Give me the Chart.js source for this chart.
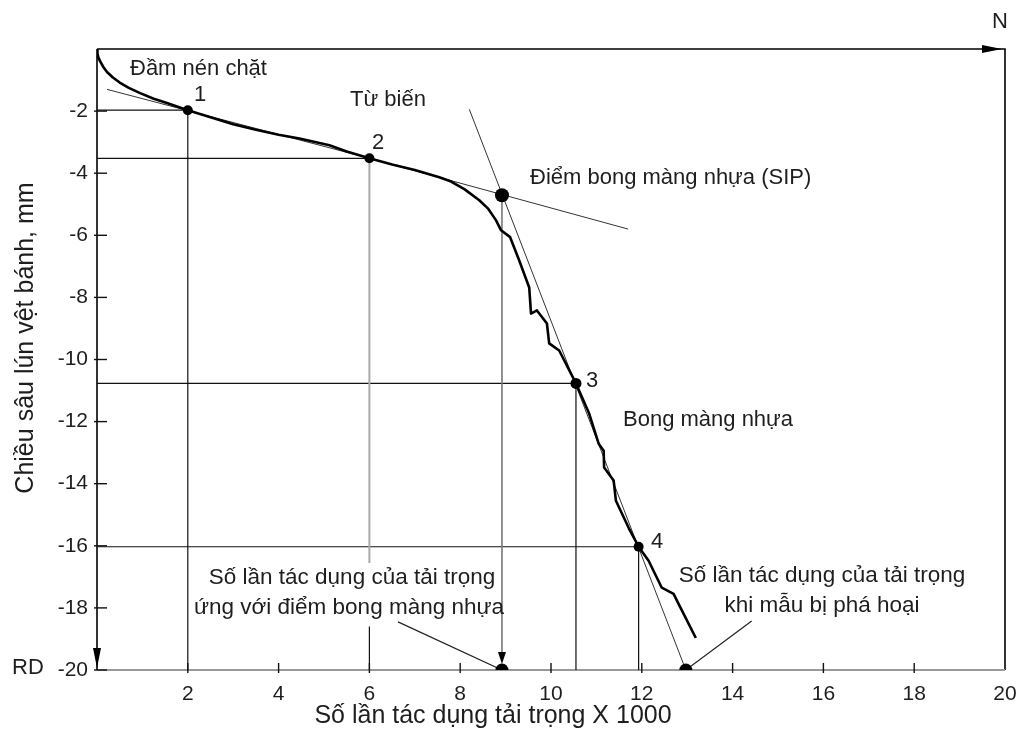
<!DOCTYPE html>
<html>
<head>
<meta charset="utf-8">
<script src="https://cdn.jsdelivr.net/npm/chart.js@4/dist/chart.umd.min.js"></script>
<style>
  body { margin: 0; background: #fff; }
  #wrap { width: 1020px; height: 740px; }
</style>
</head>
<body>
<div id="wrap"><canvas id="rutChart" width="1020" height="740"></canvas></div>
<script>
// Đường cong lún vệt bánh (số lần tác dụng x1000, chiều sâu mm)
var curveX = [0, 0.01, 0.03, 0.07, 0.14, 0.22, 0.35, 0.5, 0.7, 0.95, 1.25, 1.54, 2, 2.5, 3, 3.5, 4, 4.46, 5.12, 5.5, 6, 6.5, 7, 7.54, 7.8, 8.1, 8.42, 8.62, 8.79, 8.9, 9.1, 9.3, 9.52, 9.56, 9.69, 9.91, 9.96, 10.18, 10.55, 10.84, 11.05, 11.16, 11.17, 11.38, 11.43, 11.71, 11.93, 12.15, 12.44, 12.7, 12.81, 13.19];
var curveY = [0, -0.15, -0.27, -0.4, -0.58, -0.74, -0.92, -1.08, -1.25, -1.42, -1.6, -1.74, -1.97, -2.2, -2.42, -2.6, -2.76, -2.88, -3.1, -3.3, -3.52, -3.72, -3.9, -4.13, -4.27, -4.52, -4.87, -5.15, -5.52, -5.84, -6.06, -6.81, -7.68, -8.52, -8.42, -8.84, -9.48, -9.71, -10.77, -11.74, -12.71, -12.94, -13.48, -13.9, -14.55, -15.42, -16.03, -16.48, -17.35, -17.55, -17.87, -18.97];

// Các điểm đặc trưng: 1, 2, SIP, 3, 4
var keyX = [2, 6, 8.92, 10.55, 11.93];
var keyY = [-1.97, -3.52, -4.71, -10.77, -16.03];
var keyR = [5, 5, 7, 5.5, 5];

// Tiếp tuyến
var compactLineX = [0.22, 6];
var compactLineY = [-1.3, -3.52];
var creepLineX = [6, 11.7];
var creepLineY = [-3.52, -5.8];
var stripLineX = [8.2, 12.97];
var stripLineY = [-1.94, -20];

// Điểm trên trục hoành
var bottomX = [8.92, 12.97];
var bottomY = [-20, -20];

// Đường dẫn chú thích
var leaderAX = [6.63, 8.92];
var leaderAY = [-18.45, -20];
var leaderBX = [14.42, 12.97];
var leaderBY = [-18.42, -20];

// Trục
var xTicks = [2, 4, 6, 8, 10, 12, 14, 16, 18, 20];
var yTicks = [-2, -4, -6, -8, -10, -12, -14, -16, -18, -20];

function pts(xs, ys) {
  return xs.map(function(x, i) { return { x: x, y: ys[i] }; });
}
function line(xs, ys, color, width) {
  return { data: pts(xs, ys), showLine: true, borderColor: color, borderWidth: width, pointRadius: 0, tension: 0 };
}

var FONT = '"Liberation Sans", Arial, sans-serif';
var TXT = '#1e1e1e';

var curve = line(curveX, curveY, '#000', 2.6);
curve.borderJoinStyle = 'round';

var datasets = [
  { data: pts(keyX, keyY), pointRadius: keyR, pointBackgroundColor: '#000', pointBorderWidth: 0 },
  { data: pts(bottomX, bottomY), pointRadius: 6.5, pointBackgroundColor: '#000', pointBorderWidth: 0 },
  curve,
  line(compactLineX, compactLineY, '#333', 1),
  line(creepLineX, creepLineY, '#333', 1),
  line(stripLineX, stripLineY, '#333', 1),
  line(leaderAX, leaderAY, '#222', 1.2),
  line(leaderBX, leaderBY, '#222', 1.2),
  // đường gióng
  line([0, keyX[0]], [keyY[0], keyY[0]], '#111', 1.2),
  line([keyX[0], keyX[0]], [keyY[0], -20], '#111', 1.2),
  line([0, keyX[1]], [keyY[1], keyY[1]], '#111', 1.2),
  line([keyX[1], keyX[1]], [keyY[1], -16.55], '#aaa', 2),
  line([keyX[1], keyX[1]], [-18.6, -20], '#111', 1.2),
  line([keyX[2], keyX[2]], [keyY[2], -19.6], '#777', 1.6),
  line([0, keyX[3]], [keyY[3], keyY[3]], '#111', 1.2),
  line([keyX[3], keyX[3]], [keyY[3], -20], '#111', 1.2),
  line([0, keyX[4]], [keyY[4], keyY[4]], '#111', 1.2),
  line([keyX[4], keyX[4]], [keyY[4], -20], '#111', 1.2)
];

function arrow(ctx, x, y, dir, len, half) {
  ctx.beginPath();
  if (dir === 'right') {
    ctx.moveTo(x, y); ctx.lineTo(x - len, y - half); ctx.lineTo(x - len, y + half);
  } else {
    ctx.moveTo(x, y); ctx.lineTo(x - half, y - len); ctx.lineTo(x + half, y - len);
  }
  ctx.closePath();
  ctx.fill();
}

var decor = {
  id: 'decor',
  beforeDatasetsDraw: function(chart) {
    var ctx = chart.ctx, a = chart.chartArea;
    var xs = chart.scales.x, ys = chart.scales.y;
    ctx.save();
    // khung trên và phải
    ctx.strokeStyle = '#000';
    ctx.lineWidth = 1.6;
    ctx.beginPath();
    ctx.moveTo(a.left, a.top); ctx.lineTo(a.right, a.top); ctx.lineTo(a.right, a.bottom);
    ctx.stroke();
    // đáy xám
    ctx.strokeStyle = '#999';
    ctx.lineWidth = 2;
    ctx.beginPath();
    ctx.moveTo(a.left, a.bottom); ctx.lineTo(a.right, a.bottom);
    ctx.stroke();
    // trục tung
    ctx.strokeStyle = '#000';
    ctx.lineWidth = 1.6;
    ctx.beginPath();
    ctx.moveTo(a.left, a.top); ctx.lineTo(a.left, a.bottom);
    ctx.stroke();
    // vạch chia
    ctx.lineWidth = 1.4;
    ctx.strokeStyle = '#111';
    xTicks.forEach(function(v) {
      if (v === 20) return;
      var px = xs.getPixelForValue(v);
      ctx.beginPath(); ctx.moveTo(px, a.bottom - 7); ctx.lineTo(px, a.bottom + 3); ctx.stroke();
    });
    yTicks.forEach(function(v) {
      var py = ys.getPixelForValue(v);
      ctx.beginPath(); ctx.moveTo(a.left - 3, py); ctx.lineTo(a.left + 10, py); ctx.stroke();
    });
    ctx.restore();
  },
  afterDraw: function(chart) {
    var ctx = chart.ctx, a = chart.chartArea;
    var xs = chart.scales.x;
    ctx.save();
    ctx.fillStyle = '#000';
    arrow(ctx, a.right - 3, a.top, 'right', 20, 4);
    arrow(ctx, a.left, a.bottom - 2, 'down', 20, 4);
    arrow(ctx, xs.getPixelForValue(keyX[2]), a.bottom - 6, 'down', 12, 4);

    ctx.fillStyle = TXT;
    ctx.textBaseline = 'middle';
    ctx.font = '22px ' + FONT;
    ctx.textAlign = 'left';
    ctx.fillText('Đầm nén chặt', 130, 69);
    ctx.fillText('Từ biến', 350, 100);
    ctx.fillText('Điểm bong màng nhựa (SIP)', 530, 178);
    ctx.fillText('Bong màng nhựa', 623, 420);
    ctx.textAlign = 'center';
    ctx.fillText('1', 200, 95);
    ctx.fillText('2', 378, 143);
    ctx.fillText('3', 592, 381);
    ctx.fillText('4', 657, 542);
    ctx.fillText('N', 1000, 22);
    ctx.fillText('RD', 28, 668);
    ctx.font = '22.5px ' + FONT;
    ctx.fillText('Số lần tác dụng của tải trọng', 352, 578);
    ctx.fillText('ứng với điểm bong màng nhựa', 349, 608);
    ctx.fillText('Số lần tác dụng của tải trọng', 822, 576);
    ctx.fillText('khi mẫu bị phá hoại', 822, 606);

    ctx.font = '25px ' + FONT;
    ctx.fillText('Số lần tác dụng tải trọng X 1000', 493, 716);
    ctx.translate(26, 338);
    ctx.rotate(-Math.PI / 2);
    ctx.fillText('Chiều sâu lún vệt bánh, mm', 0, 0);
    ctx.restore();
  }
};

new Chart(document.getElementById('rutChart').getContext('2d'), {
  type: 'scatter',
  data: { datasets: datasets },
  options: {
    responsive: false,
    animation: false,
    layout: { padding: { top: 49, right: 15, left: 0, bottom: 0 } },
    plugins: { legend: { display: false }, tooltip: { enabled: false } },
    scales: {
      x: {
        type: 'linear', min: 0, max: 20,
        afterFit: function(s) { s.height = 70; s.paddingLeft = 0; s.paddingRight = 0; },
        afterBuildTicks: function(s) { s.ticks = xTicks.map(function(v) { return { value: v }; }); },
        grid: { display: false, drawTicks: false },
        border: { display: false },
        ticks: { padding: 12, color: TXT, font: { family: FONT, size: 21 }, maxRotation: 0 }
      },
      y: {
        type: 'linear', min: -20, max: 0,
        afterFit: function(s) { s.width = 97; s.paddingTop = 0; s.paddingBottom = 0; },
        afterBuildTicks: function(s) { s.ticks = yTicks.map(function(v) { return { value: v }; }); },
        grid: { display: false, drawTicks: false },
        border: { display: false },
        ticks: { padding: 9, color: TXT, font: { family: FONT, size: 21 } }
      }
    }
  },
  plugins: [decor]
});
</script>
</body>
</html>
